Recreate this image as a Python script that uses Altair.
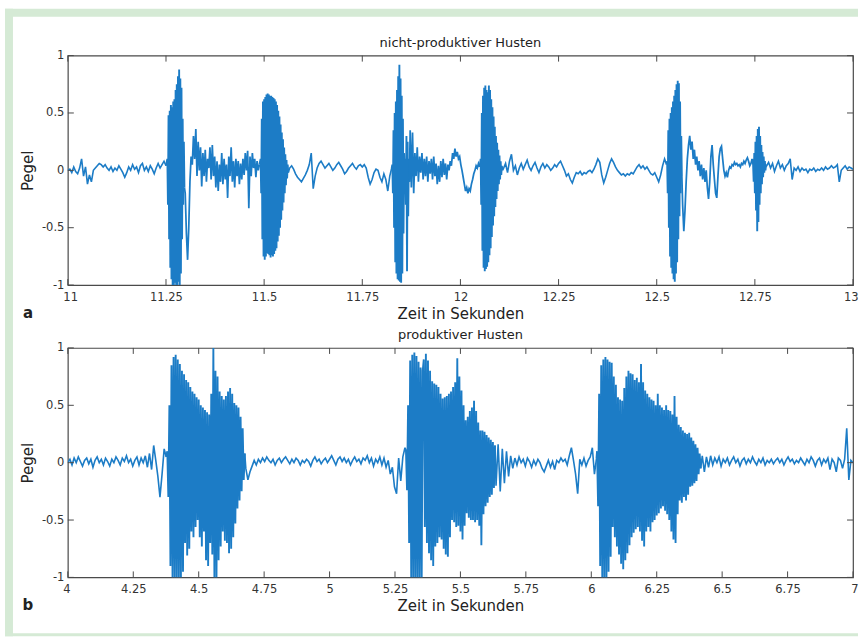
import altair as alt
import pandas as pd

BLUE = "#1c7cc6"
AX = "#4a4a4a"
GREEN = "#d5ead5"
FONT = "DejaVu Sans"

# ---------------- top panel (nicht-produktiver Husten), segments: start, step, values
top_a = [0.0, 0.01, -0.02, 0.03, -0.01, -0.03, 0.02, 0.1, -0.05, 0.03,
         -0.12, -0.04, -0.1, 0.0, 0.02, 0.04, 0.06, 0.05, 0.03, 0.05,
         0.02, 0.0, 0.03, -0.01, 0.02, 0.0, 0.04, 0.01, -0.02, -0.06,
         -0.02, 0.03, 0.0, 0.05, 0.01, 0.03, -0.02, 0.04, 0.06, 0.0,
         0.03, -0.01, 0.04, 0.01, -0.03, 0.02, 0.06, 0.02, 0.05, 0.08, 0.04]
top_b = [0.1, -0.3, 0.48, -0.6, 0.52, -0.85, 0.57, -0.95, 0.55, -1.0,
         0.6, -1.0, 0.62, -0.98, 0.7, -1.0, 0.75, -1.0, 0.82, -0.97,
         0.88, -1.0, 0.8, -0.9, 0.72, -0.6, 0.45, -0.3, 0.25, -0.15]
top_c = [-0.2, -0.55, -0.78, -0.5, -0.1, 0.12, 0.05, 0.3, 0.1, 0.36,
         -0.05, 0.25, 0.0, 0.2, -0.14, 0.15, -0.05, 0.18, -0.1, 0.1,
         0.02, 0.2, -0.08, 0.22, -0.05, 0.12, -0.15, 0.08, -0.18, 0.05,
         -0.1, 0.15, -0.12, 0.1, -0.08, 0.05, -0.24, 0.12, -0.05, 0.2,
         -0.1, 0.08, -0.15, 0.1, -0.05, 0.08, -0.12, 0.06, -0.08, 0.1,
         -0.04, 0.15, 0.0, 0.17, -0.33, 0.12, -0.05, 0.15, 0.02, 0.1,
         -0.06, 0.08, 0.0, 0.05]
top_d = [0.1, -0.2, 0.45, -0.6, 0.6, -0.75, 0.62, -0.78, 0.64, -0.75,
         0.66, -0.72, 0.67, -0.73, 0.66, -0.74, 0.65, -0.76, 0.65, -0.74,
         0.64, -0.75, 0.63, -0.73, 0.62, -0.7, 0.6, -0.68, 0.57, -0.62,
         0.52, -0.57, 0.47, -0.5, 0.4, -0.43, 0.33, -0.35, 0.27, -0.28,
         0.2, -0.2, 0.14, -0.13, 0.09, -0.07, 0.05, -0.02]
top_e = [0.02, 0.04, 0.01, -0.03, -0.06, -0.08, -0.1, -0.07, -0.04, 0.0,
         0.05, 0.15, -0.16, -0.05, 0.02, 0.06, 0.08, 0.05, 0.02, 0.04,
         0.06, 0.03, 0.0, 0.02, 0.05, 0.07, 0.04, 0.01, -0.03, -0.01,
         0.02, 0.04, 0.06, 0.03, 0.01, 0.04, 0.05, 0.03, 0.05, 0.02,
         -0.06, -0.12, -0.08, -0.02, 0.01, 0.0, -0.06, -0.1, -0.03, -0.08,
         -0.18, -0.05, 0.02]
top_f = [0.05, -0.2, 0.35, -0.5, 0.5, -0.8, 0.6, -0.9, 0.7, -0.95,
         0.82, -0.96, 0.92, -0.97, 0.8, -0.98, 0.65, -0.9, 0.45, -0.55,
         0.15, -0.1, 0.1, -0.3, 0.3, -0.88, 0.25, -0.4, 0.1, -0.1]
top_g = [0.35, -0.15, 0.33, -0.2, 0.15, -0.05, 0.2, -0.1, 0.12, -0.02,
         0.15, -0.08, 0.1, -0.05, 0.12, -0.1, 0.08, -0.03, 0.1, -0.08,
         0.12, -0.05, 0.06, -0.12, 0.04, -0.1, 0.08, -0.06, 0.1, -0.04,
         0.06, -0.08, 0.05, 0.0, 0.08, 0.04, 0.15, 0.1, 0.19, 0.12,
         0.16, 0.1, 0.12, 0.05, 0.0, -0.06, -0.12, -0.18, -0.15, -0.2,
         -0.16, -0.18, -0.12, -0.08, -0.03, 0.0, 0.04, 0.02, 0.06, 0.03]
top_h = [0.1, -0.3, 0.5, -0.7, 0.65, -0.85, 0.72, -0.88, 0.74, -0.86,
         0.7, -0.84, 0.68, -0.8, 0.74, -0.74, 0.7, -0.68, 0.62, -0.58,
         0.55, -0.48, 0.47, -0.4, 0.38, -0.32, 0.3, -0.25, 0.24, -0.18,
         0.18, -0.12, 0.13, -0.08, 0.08, -0.04, 0.04, 0.0]
top_i = [0.02, 0.06, -0.02, 0.08, 0.14, 0.0, 0.04, -0.04, 0.02, 0.06,
         0.01, 0.05, 0.09, 0.03, 0.0, 0.04, 0.07, 0.02, -0.02, 0.03,
         0.06, 0.02, 0.05, 0.03, 0.0, 0.02, 0.05, 0.03, 0.06, 0.08,
         0.04, 0.0, -0.05, -0.03, -0.08, -0.11, -0.06, -0.02, -0.03, -0.01,
         -0.04, -0.02, -0.03, -0.01, 0.0, -0.02, 0.01, 0.05, 0.1, 0.07,
         -0.04, -0.11, -0.06, 0.0, 0.06, 0.1, 0.07, 0.03, 0.0, -0.02,
         -0.04, -0.03, -0.05, -0.03, -0.04, -0.02, -0.03, 0.0, 0.03, 0.05,
         0.02, 0.04, 0.01, 0.03, 0.0, -0.03, -0.04, -0.02, -0.06, -0.1,
         -0.04, 0.04, 0.1, 0.05]
top_j = [0.08, -0.2, 0.35, -0.5, 0.45, -0.75, 0.5, -0.85, 0.55, -0.9,
         0.6, -0.95, 0.65, -0.97, 0.7, -0.9, 0.75, -0.8, 0.78, -0.6,
         0.76, -0.4, 0.6, -0.2, 0.3, -0.05]
top_k = [-0.3, -0.53, -0.35, -0.1, 0.1, 0.22, 0.3, 0.18, 0.25, 0.1,
         0.18, 0.05, 0.12, 0.0, 0.08, -0.05, 0.05, -0.08, 0.02, -0.1,
         0.0, -0.15, -0.25, -0.1, 0.12, 0.22, 0.05, -0.08, -0.2, -0.24,
         -0.05, 0.12, 0.19, 0.21, 0.1, 0.0, -0.05, -0.02, -0.06, 0.0,
         0.03, 0.02, 0.05, 0.04, 0.07, 0.05, 0.06, 0.04, 0.05, 0.03,
         0.06, 0.05, 0.08, 0.06, 0.09, 0.11, 0.08, 0.04, 0.06, 0.1]
top_l = [0.05, -0.1, 0.15, -0.2, 0.25, -0.35, 0.3, -0.53, 0.36, -0.45,
         0.38, -0.3, 0.3, -0.2, 0.22, -0.12, 0.16, -0.06, 0.12, -0.02,
         0.08, 0.0, 0.05]
top_m = [0.04, 0.07, 0.02, 0.06, -0.01, 0.04, 0.08, 0.02, 0.05, 0.0,
         0.04, 0.06, 0.1, -0.08, 0.02, 0.0, 0.03, -0.01, 0.02, 0.0,
         0.01, -0.02, 0.01, 0.0, 0.02, -0.01, 0.01, 0.0, 0.02, 0.0,
         0.03, 0.01, 0.02, 0.04, 0.02, 0.03, 0.05, -0.1, 0.0, 0.02,
         0.04, 0.01, 0.03, 0.02, 0.01]
# (start time, sample step, values, kind: q = quiet, n = noisy, b = dense burst)
top_segments = [(11.000, 0.005, top_a, "q"), (11.2535, 0.0015, top_b, "b"), (11.299, 0.003, top_c, "n"),
                (11.491, 0.0015, top_d, "b"), (11.565, 0.005, top_e, "q"), (11.8265, 0.0015, top_f, "b"),
                (11.872, 0.003, top_g, "n"), (12.0515, 0.0015, top_h, "b"), (12.110, 0.005, top_i, "q"),
                (12.5265, 0.0015, top_j, "b"), (12.566, 0.003, top_k, "n"), (12.7455, 0.0015, top_l, "b"),
                (12.780, 0.005, top_m, "q")]

# ---------------- bottom panel (produktiver Husten)
bot_a = [0.0, 0.03, -0.02, 0.04, 0.0, 0.05, 0.01, -0.03, 0.02, 0.04,
         -0.01, 0.03, -0.04, 0.02, 0.05, 0.0, 0.03, -0.02, 0.04, 0.01,
         -0.03, 0.03, 0.0, 0.05, 0.02, -0.02, 0.04, 0.01, 0.06, 0.0,
         0.03, -0.03, 0.02, 0.05, -0.02, 0.04, 0.0, 0.06, -0.04, 0.08,
         -0.06, 0.15, 0.02, -0.12, -0.3, -0.1, 0.12, 0.05]
bot_b = [0.1, -0.3, 0.5, -0.9, 0.85, -1.0, 0.92, -1.0, 0.94, -1.0,
         0.9, -1.0, 0.86, -1.0, 0.8, -0.95, 0.77, -0.7, 0.72, -0.81,
         0.7, -0.75, 0.66, -0.6, 0.62, -0.65, 0.6, -0.56, 0.57, -0.5,
         0.55, -0.65, 0.5, -0.73, 0.48, -0.6, 0.46, -0.85, 0.44, -0.9,
         0.42, -0.7, 0.6, -0.8, 1.0, -1.0, 0.8, -1.0, 0.75, -0.85,
         0.62, -0.73, 0.58, -0.6, 0.55, -0.68, 0.58, -0.7, 0.62, -0.79,
         0.65, -0.75, 0.6, -0.65, 0.52, -0.53, 0.5, -0.4, 0.48, -0.33,
         0.4, -0.25, 0.3, -0.15, 0.08]
bot_c = [-0.05, -0.15, -0.08, -0.03, 0.02, -0.02, 0.03, 0.0, 0.04, 0.01,
         0.05, 0.02, 0.0, 0.03, -0.02, 0.02, 0.04, 0.0, 0.03, 0.05,
         0.02, -0.01, 0.03, 0.0, 0.04, 0.02, -0.02, 0.02, 0.0, 0.03,
         0.01, -0.03, 0.02, 0.05, 0.01, 0.03, -0.01, 0.02, 0.04, 0.0,
         0.03, 0.06, 0.02, -0.02, 0.03, 0.05, 0.01, 0.04, 0.0, 0.03,
         -0.02, 0.02, 0.05, 0.01, 0.03, -0.01, 0.04, 0.02, 0.06, 0.0,
         0.04, -0.03, 0.03, 0.0, 0.05, -0.02, 0.04, -0.04, 0.02, -0.1,
         -0.04, -0.21, -0.27, 0.04, -0.16, 0.05, 0.13]
bot_d = [0.1, -0.24, 0.5, -0.7, 0.89, -1.0, 0.94, -1.0, 0.96, -1.0,
         0.93, -1.0, 0.88, -1.0, 0.83, -1.0, 0.8, 0.9, -0.56, 0.95,
         -0.7, 0.89, -0.79, 0.8, -0.85, 0.71, -0.9, 0.69, -0.73, 0.68,
         -0.7, 0.66, -0.65, 0.6, -0.67, 0.56, -0.75, 0.57, -0.8, 0.58,
         -0.82, 0.6, -0.65, 0.62, -0.5, 0.66, -0.52, 0.7, -0.56, 0.91,
         -0.55, 0.75, -0.6, 0.63, -0.67, 0.5, -0.55, 0.37, -0.44, 0.4,
         -0.48, 0.45, -0.5, 0.48, -0.5, 0.54, -0.52, 0.45, -0.5, 0.35,
         -0.55, 0.28, -0.72, 0.28, -0.45, 0.27, -0.38, 0.24, -0.35, 0.22,
         -0.3, 0.2, -0.28, 0.18, -0.22, 0.15]
bot_e = [-0.2, 0.16, -0.25, 0.12, -0.18, 0.1, -0.12, 0.06, -0.05, 0.04,
         -0.02, 0.05, 0.0, 0.03, -0.03, 0.04, 0.01, -0.04, 0.02, -0.02,
         0.03, 0.0, -0.05, -0.08, -0.03, 0.02, -0.04, 0.01, -0.06, 0.02,
         0.0, 0.04, 0.01, 0.03, -0.02, 0.06, 0.13, 0.02, -0.1, -0.27,
         0.03, -0.02, 0.04, -0.03, 0.02, 0.05, 0.13, -0.1, 0.04]
bot_f = [0.1, -0.38, 0.6, -0.9, 0.85, -1.0, 0.9, -1.0, 0.92, -1.0,
         0.9, -0.95, 0.88, -0.82, 0.87, -0.56, 0.75, -0.65, 0.68, -0.73,
         0.57, -0.8, 0.55, -0.88, 0.54, -0.93, 0.65, -0.85, 0.75, -0.79,
         0.8, -0.72, 0.78, -0.65, 0.77, -0.61, 0.72, -0.58, 0.74, -0.56,
         0.7, -0.6, 0.86, -0.68, 0.7, -0.73, 0.63, -0.6, 0.6, -0.56,
         0.57, -0.6, 0.55, -0.52, 0.54, -0.5, 0.5, -0.46, 0.6, -0.44,
         0.5, -0.4, 0.48, -0.38, 0.46, -0.42, 0.5, -0.45, 0.46, -0.5,
         0.45, -0.6, 0.42, -0.67, 0.58, -0.7, 0.4, -0.45, 0.33, -0.33,
         0.31, -0.35, 0.28, -0.3, 0.26, -0.33, 0.25, -0.28, 0.26, -0.21,
         0.22, -0.2, 0.19, -0.18, 0.16, -0.16, 0.13, -0.1, 0.08, -0.05]
bot_g = [0.06, -0.08, 0.05, -0.04, 0.06, -0.02, 0.04, 0.0, 0.05, -0.03,
         0.03, 0.0, 0.04, -0.02, 0.02, 0.05, 0.0, 0.03, -0.03, 0.02,
         0.04, -0.01, 0.03, 0.0, 0.05, 0.01, -0.02, 0.03, 0.0, 0.04,
         -0.02, 0.02, 0.0, 0.03, -0.01, 0.02, 0.04, 0.0, 0.03, -0.02,
         0.02, 0.05, 0.01, 0.03, -0.01, 0.02, 0.0, 0.04, 0.01, -0.02,
         0.03, 0.0, 0.05, 0.02, -0.03, 0.02, 0.04, -0.02, 0.03, 0.0,
         0.04, -0.06, 0.03, 0.0, -0.08, 0.04, 0.02, -0.05, 0.03, 0.3,
         -0.15, 0.02, 0.0]
bot_segments = [(4.000, 0.008, bot_a, "q"), (4.380, 0.004, bot_b, "b"), (4.680, 0.008, bot_c, "q"),
                (5.292, 0.004, bot_d, "b"), (5.636, 0.008, bot_e, "q"), (6.022, 0.004, bot_f, "b"),
                (6.424, 0.008, bot_g, "q")]

top_xticks = [11, 11.25, 11.5, 11.75, 12, 12.25, 12.5, 12.75, 13]
bot_xticks = [4, 4.25, 4.5, 4.75, 5, 5.25, 5.5, 5.75, 6, 6.25, 6.5, 6.75, 7]
yticks = [-1, -0.5, 0, 0.5, 1]

W, H = 787, 230
LBL = "replace(format(datum.value, '.6~g'), '\u2212', '-')"


def frame_of(segments):
    rows = []
    prev = None
    for k, (start, step, vals, kind) in enumerate(segments):
        if prev is not None:
            rows.append({"t": prev[0], "v": prev[1], "seg": k, "kind": kind})
        for i, v in enumerate(vals):
            t = round(start + i * step, 6)
            rows.append({"t": t, "v": v, "seg": k, "kind": kind})
            prev = (t, v)
    return pd.DataFrame(rows)


def panel(segments, xdom, xticks, title, letter, frame=False):
    xs = alt.Scale(domain=xdom, nice=False, zero=False)
    ys = alt.Scale(domain=[-1, 1], nice=False, zero=False)
    xa = alt.Axis(values=xticks, labelExpr=LBL, title="Zeit in Sekunden",
                  labelFlush=True, labelFlushOffset=5,
                  titleX=W / 2, titleY=28, titleBaseline="middle", titleAlign="center")
    ya = alt.Axis(values=yticks, labelExpr=LBL, title="Pegel", labelFlush=False,
                  titleX=-40, titleY=H / 2, titleAngle=270,
                  titleBaseline="middle", titleAlign="center")
    X = alt.X("t:Q", scale=xs, axis=xa)
    Y = alt.Y("v:Q", scale=ys, axis=ya)
    line = alt.Chart(frame_of(segments)).mark_line(color=BLUE, clip=True).encode(
        x=X, y=Y, detail="seg:N",
        strokeWidth=alt.StrokeWidth("kind:N",
                                    scale=alt.Scale(domain=["q", "n", "b"], range=[1.6, 1.9, 2.3]),
                                    legend=None),
    )
    xt = pd.DataFrame({"t": xticks})
    yt = pd.DataFrame({"v": yticks})
    tick_top = alt.Chart(xt).mark_rule(color=AX, strokeWidth=1).encode(
        x=X, y=alt.value(0), y2=alt.value(6))
    tick_bot = alt.Chart(xt).mark_rule(color=AX, strokeWidth=1).encode(
        x=X, y=alt.value(H), y2=alt.value(H - 6))
    tick_l = alt.Chart(yt).mark_rule(color=AX, strokeWidth=1).encode(
        y=Y, x=alt.value(0), x2=alt.value(6))
    tick_r = alt.Chart(yt).mark_rule(color=AX, strokeWidth=1).encode(
        y=Y, x=alt.value(W), x2=alt.value(W - 6))
    one = alt.Data(values=[{"k": 1}])
    lab = alt.Chart(one).mark_text(text=letter, font=FONT, fontSize=15, fontWeight="bold",
                                   color="#222", baseline="middle", align="center").encode(
        x=alt.value(-40), y=alt.value(H + 28))
    ttl = alt.Chart(one).mark_text(text=title, font=FONT, fontSize=13, color="#222",
                                   baseline="middle", align="center").encode(
        x=alt.value(W / 2), y=alt.value(-13))
    layers = []
    if frame:
        def rect(x1, x2, y1, y2):
            return alt.Chart(one).mark_rect(color=GREEN).encode(
                x=alt.value(x1), x2=alt.value(x2), y=alt.value(y1), y2=alt.value(y2))
        layers += [rect(-63, -55, -47, 582), rect(-63, 792, -47, -39), rect(-63, 792, 579, 582)]
    layers += [line, tick_top, tick_bot, tick_l, tick_r, lab, ttl]
    return alt.layer(*layers).properties(width=W, height=H)


top = panel(top_segments, [11, 13], top_xticks, "nicht-produktiver Husten", "a", frame=True)
bot = panel(bot_segments, [4, 7], bot_xticks, "produktiver Husten", "b")

chart = alt.vconcat(top, bot, spacing=63, bounds="flush").properties(
    padding={"left": 4, "top": 7, "right": 0, "bottom": 0},
    background="white",
).configure_view(stroke=AX, strokeWidth=1.2).configure_axis(
    domain=False, ticks=False, tickSize=0, grid=False,
    labelFont=FONT, labelFontSize=11.5, labelColor="#333",
    titleFont=FONT, titleFontSize=15, titleFontWeight="normal", titleColor="#222",
).configure_axisX(labelPadding=6).configure_axisY(labelPadding=4)

chart.save("out.html", embed_options={"renderer": "svg", "actions": False})
